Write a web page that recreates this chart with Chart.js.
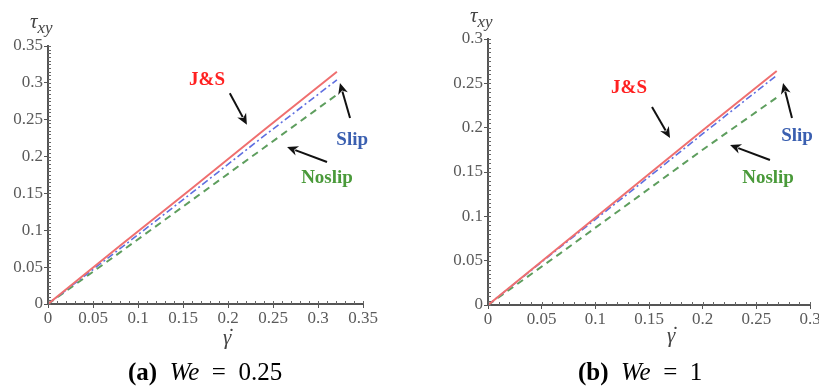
<!DOCTYPE html>
<html><head><meta charset="utf-8">
<script src="https://cdn.jsdelivr.net/npm/chart.js@4.4.0/dist/chart.umd.min.js"></script>
<style>
html,body{margin:0;padding:0;background:#fff;}
body{width:819px;height:387px;overflow:hidden;position:relative;font-family:"Liberation Serif","Times New Roman",Tinos,"DejaVu Serif",serif;}
.box{position:absolute;top:0;height:335px;}
#b1{left:0;width:410px}
#b2{left:410px;width:420px}
.t{position:absolute;white-space:nowrap;line-height:1;}
.ax{font-style:italic;color:#444;font-size:21px}
.cap{font-size:25px;color:#000}
.gd{position:relative;display:inline-block}
.gd span{position:absolute;left:5px;top:-1px;font-style:normal}
</style></head><body>
<div class="box" id="b1"><canvas id="c1"></canvas></div>
<div class="box" id="b2"><canvas id="c2"></canvas></div>
<div class="t ax" style="left:30px;top:11px">τ<sub style="font-size:17px">xy</sub></div>
<div class="t ax" style="left:470px;top:5px">τ<sub style="font-size:17px">xy</sub></div>
<div class="t ax" style="left:223px;top:327px"><span class="gd">γ<span>˙</span></span></div>
<div class="t ax" style="left:667px;top:325px"><span class="gd">γ<span>˙</span></span></div>
<div class="t cap" style="left:128px;top:359px"><b>(a)</b>&nbsp;&nbsp;<i>We</i>&ensp;=&ensp;0.25</div>
<div class="t cap" style="left:578px;top:359px"><b>(b)</b>&nbsp;&nbsp;<i>We</i>&ensp;=&ensp;1</div>
<script>
// ---- data: panel (a) We = 0.25 ----
const xA      = [0, 0.08, 0.16, 0.24, 0.321];
const jsA     = [0, 0.079, 0.157, 0.236, 0.315];
const slipA   = [0, 0.075, 0.151, 0.228, 0.304];
const noslipA = [0, 0.070, 0.141, 0.212, 0.284];
// ---- data: panel (b) We = 1 ----
const xB      = [0, 0.067, 0.134, 0.201, 0.269];
const jsB     = [0, 0.066, 0.132, 0.198, 0.264];
const slipB   = [0, 0.065, 0.129, 0.194, 0.259];
const noslipB = [0, 0.058, 0.117, 0.176, 0.234];
const seriesNames = ['J&S', 'Slip', 'Noslip'];

const FAM = '"Liberation Serif", "Times New Roman", Tinos, "DejaVu Serif", serif';
const pts = (xs, ys) => xs.map((x, i) => ({x: x, y: ys[i]}));
const fmt = v => String(+(+v).toFixed(3));

const notePlugin = {
  id: 'notes',
  afterDraw(chart, args, opts) {
    const ctx = chart.ctx, xs = chart.scales.x, ys = chart.scales.y;
    ctx.save();
    (opts.items || []).forEach(it => {
      ctx.font = 'bold 19px ' + FAM;
      ctx.fillStyle = it.color;
      ctx.textAlign = 'center';
      ctx.textBaseline = 'middle';
      ctx.fillText(it.text, xs.getPixelForValue(it.lx), ys.getPixelForValue(it.ly));
      const x0 = xs.getPixelForValue(it.a[0]), y0 = ys.getPixelForValue(it.a[1]);
      const x1 = xs.getPixelForValue(it.a[2]), y1 = ys.getPixelForValue(it.a[3]);
      const ang = Math.atan2(y1 - y0, x1 - x0), h = 11, w = 5;
      ctx.strokeStyle = '#111'; ctx.fillStyle = '#111'; ctx.lineWidth = 2;
      ctx.beginPath(); ctx.moveTo(x0, y0);
      ctx.lineTo(x1 - Math.cos(ang) * h * 0.8, y1 - Math.sin(ang) * h * 0.8); ctx.stroke();
      ctx.beginPath(); ctx.moveTo(x1, y1);
      ctx.lineTo(x1 - h * Math.cos(ang) + w * Math.sin(ang), y1 - h * Math.sin(ang) - w * Math.cos(ang));
      ctx.lineTo(x1 - h * 0.7 * Math.cos(ang), y1 - h * 0.7 * Math.sin(ang));
      ctx.lineTo(x1 - h * Math.cos(ang) - w * Math.sin(ang), y1 - h * Math.sin(ang) + w * Math.cos(ang));
      ctx.closePath(); ctx.fill();
    });
    // minor ticks
    const a = chart.chartArea;
    ctx.strokeStyle = '#666'; ctx.lineWidth = 1;
    ctx.beginPath();
    for (let v = xs.min; v <= xs.max + 1e-9; v += opts.xMinor) {
      const p = Math.round(xs.getPixelForValue(v)) + 0.5;
      ctx.moveTo(p, a.bottom); ctx.lineTo(p, a.bottom - 3);
    }
    for (let v = ys.min; v <= ys.max + 1e-9; v += opts.yMinor) {
      const p = Math.round(ys.getPixelForValue(v)) + 0.5;
      ctx.moveTo(a.left, p); ctx.lineTo(a.left + 3, p);
    }
    ctx.stroke();
    ctx.restore();
  }
};

function makeChart(id, xs, js, slip, noslip, xmax, ymax, pad, yw, xh, notes) {
  const tickFont = {family: FAM, size: 17};
  return new Chart(document.getElementById(id), {
    type: 'line',
    data: {
      datasets: [
        {label: seriesNames[0], data: pts(xs, js), borderColor: '#ef6f6f', borderWidth: 2, pointRadius: 0, tension: 0},
        {label: seriesNames[1], data: pts(xs, slip), borderColor: '#5f6fe0', borderWidth: 1.6, borderDash: [7, 3, 2, 3], pointRadius: 0, tension: 0},
        {label: seriesNames[2], data: pts(xs, noslip), borderColor: '#5e9e5e', borderWidth: 2, borderDash: [7, 5], pointRadius: 0, tension: 0}
      ]
    },
    options: {
      responsive: true, maintainAspectRatio: false, animation: false,
      layout: {padding: pad},
      plugins: {legend: {display: false}, tooltip: {enabled: false}, title: {display: false},
        notes: {items: notes, xMinor: 0.01, yMinor: 0.005}},
      scales: {
        x: {type: 'linear', min: 0, max: xmax,
          afterFit: s => { s.height = xh; },
          border: {color: '#555', width: 2},
          grid: {drawOnChartArea: false, drawTicks: true, tickLength: 4, tickColor: '#555'},
          ticks: {stepSize: 0.05, font: tickFont, color: '#5a5a5a', padding: 0, maxRotation: 0, autoSkip: false, callback: fmt}},
        y: {type: 'linear', min: 0, max: ymax,
          afterFit: s => { s.width = yw; },
          border: {color: '#555', width: 2},
          grid: {drawOnChartArea: false, drawTicks: true, tickLength: 4, tickColor: '#555'},
          ticks: {stepSize: 0.05, font: tickFont, color: '#5a5a5a', padding: 1, autoSkip: false, callback: fmt}}
      }
    },
    plugins: [notePlugin]
  });
}

makeChart('c1', xA, jsA, slipA, noslipA, 0.35, 0.35,
  {top: 46, right: 47, left: 0, bottom: 0}, 48, 31,
  [
    {text: 'J&S', color: '#ff2020', lx: 0.1767, ly: 0.304, a: [0.202, 0.286, 0.221, 0.243]},
    {text: 'Slip', color: '#3a5fb0', lx: 0.338, ly: 0.2225, a: [0.3356, 0.2523, 0.3244, 0.2998]},
    {text: 'Noslip', color: '#4a9a3a', lx: 0.31, ly: 0.171, a: [0.31, 0.1926, 0.2656, 0.213]}
  ]);
makeChart('c2', xB, jsB, slipB, noslipB, 0.3, 0.3,
  {top: 39, right: 20, left: 0, bottom: 0}, 78, 30,
  [
    {text: 'J&S', color: '#ff2020', lx: 0.1314, ly: 0.2447, a: [0.1528, 0.2233, 0.1696, 0.1883]},
    {text: 'Slip', color: '#3a5fb0', lx: 0.2879, ly: 0.1906, a: [0.2832, 0.2109, 0.2749, 0.2504]},
    {text: 'Noslip', color: '#4a9a3a', lx: 0.2609, ly: 0.1432, a: [0.2627, 0.1635, 0.2255, 0.1804]}
  ]);
</script>
</body></html>
